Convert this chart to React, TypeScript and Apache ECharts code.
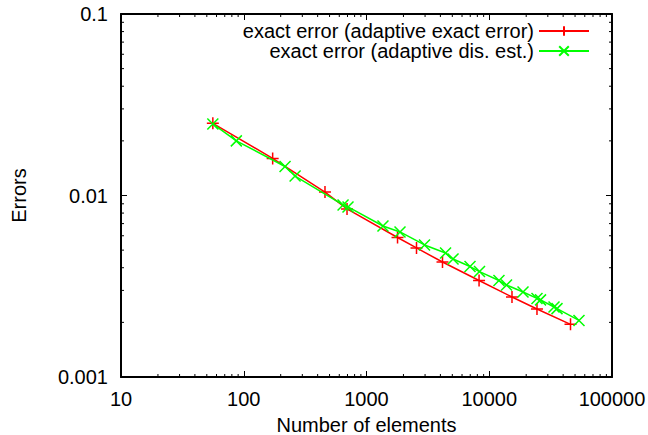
import React, { useEffect, useRef } from "react";
import * as echarts from "echarts";

// ---- data ----
const seriesNames = [
  "exact error (adaptive exact error)",
  "exact error (adaptive dis. est.)",
];
const exactElems = [56, 172, 459, 694, 1790, 2555, 4160, 8260, 15320, 24480, 45920];
const exactErrors = [0.025, 0.016, 0.01045, 0.00843, 0.00587, 0.00514, 0.0043, 0.0034, 0.00276, 0.00237, 0.00195];
const disElems = [56, 87, 217, 262, 644, 707, 1362, 1875, 2969, 4405, 5070, 6970, 8330, 12000, 13830, 18840, 24480, 26170, 33700, 35640, 53840];
const disErrors = [0.0248, 0.02, 0.01445, 0.0128, 0.00887, 0.00865, 0.00679, 0.0063, 0.00534, 0.00482, 0.00447, 0.00406, 0.00381, 0.0034, 0.00321, 0.00294, 0.00271, 0.00266, 0.00243, 0.00238, 0.00205];
const xTickLabels = ["10", "100", "1000", "10000", "100000"];
const yTickLabels = ["0.001", "0.01", "0.1"];
const xDecades = [10, 100, 1000, 10000];
const yDecades = [0.001, 0.01];
const minorMults = [2, 3, 4, 5, 6, 7, 8, 9];

const FONT = "'Liberation Sans', Arial, Helvetica, sans-serif";
const FS = 20;

const X_MIN = Number(xTickLabels[0]);
const X_MAX = Number(xTickLabels[xTickLabels.length - 1]);
const Y_MIN = Number(yTickLabels[0]);
const Y_MAX = Number(yTickLabels[yTickLabels.length - 1]);

const plusSymbol = "path://M0 5 L10 5 M5 0 L5 10";
const crossSymbol = "path://M0 0 L10 10 M10 0 L0 10";

export default function App() {
  const ref = useRef<HTMLDivElement>(null);
  useEffect(() => {
    if (!ref.current) return;
    const chart = echarts.init(ref.current, null, { renderer: "svg" });

    const xMinor: number[][] = [];
    xDecades.forEach((d) => minorMults.forEach((m) => xMinor.push([m * d, Y_MIN])));
    const yMinor: number[][] = [];
    yDecades.forEach((d) => minorMults.forEach((m) => yMinor.push([X_MIN, m * d])));

    const axisLineStyle = { color: "#000", width: 2 };
    const tickStyle = { color: "#000", width: 1 };
    const fmtX = (v: number) => String(Math.round(v));
    const fmtY = (v: number) => String(Number(v.toPrecision(6)));

    const xBase = {
      type: "log" as const,
      logBase: 10,
      min: X_MIN,
      max: X_MAX,
      splitNumber: 4,
      splitLine: { show: false },
      axisLine: { show: true, lineStyle: axisLineStyle },
      axisTick: { show: true, inside: true, length: 6, lineStyle: tickStyle },
    };
    const yBase = {
      type: "log" as const,
      logBase: 10,
      min: Y_MIN,
      max: Y_MAX,
      splitNumber: 2,
      splitLine: { show: false },
      axisLine: { show: true, lineStyle: axisLineStyle },
      axisTick: { show: true, inside: true, length: 6, lineStyle: tickStyle },
    };

    const minorLen = 3;
    const legendCommon = {
      right: 58,
      padding: 0,
      align: "right",
      itemWidth: 50,
      itemHeight: 12,
      selectedMode: false,
      textStyle: { fontSize: FS, color: "#000", fontFamily: FONT },
    };

    chart.setOption({
      animation: false,
      backgroundColor: "#fff",
      textStyle: { fontFamily: FONT },
      grid: { left: 121, right: 36, top: 14, bottom: 58, containLabel: false, outerBoundsMode: "none" },
      legend: [
        { ...legendCommon, data: [seriesNames[0]], top: 21 },
        { ...legendCommon, data: [seriesNames[1]], top: 41 },
      ],
      xAxis: [
        {
          ...xBase,
          position: "bottom",
          name: "Number of elements",
          nameLocation: "middle",
          nameGap: 38,
          nameTextStyle: { fontSize: FS, color: "#000", fontFamily: FONT },
          axisLabel: { show: true, fontSize: FS, color: "#000", margin: 12, formatter: fmtX, fontFamily: FONT },
        },
        {
          ...xBase,
          position: "top",
          axisLabel: { show: false },
        },
      ],
      yAxis: [
        {
          ...yBase,
          position: "left",
          name: "Errors",
          nameLocation: "middle",
          nameRotate: 90,
          nameGap: 92,
          nameTextStyle: { fontSize: FS, color: "#000", fontFamily: FONT },
          axisLabel: { show: true, fontSize: FS, color: "#000", margin: 13, formatter: fmtY, fontFamily: FONT },
        },
        {
          ...yBase,
          position: "right",
          axisLabel: { show: false },
        },
      ],
      series: [
        {
          name: seriesNames[0],
          type: "line",
          data: exactElems.map((x, i) => [x, exactErrors[i]]),
          symbol: plusSymbol,
          symbolSize: 12,
          showSymbol: true,
          lineStyle: { color: "#ff0000", width: 1.5 },
          itemStyle: { color: "#ff0000", borderColor: "#ff0000", borderWidth: 1.5 },
          emphasis: { disabled: true },
          silent: true,
          z: 3,
        },
        {
          name: seriesNames[1],
          type: "line",
          data: disElems.map((x, i) => [x, disErrors[i]]),
          symbol: crossSymbol,
          symbolSize: 11,
          showSymbol: true,
          lineStyle: { color: "#00ff00", width: 1.5 },
          itemStyle: { color: "#00ff00", borderColor: "#00ff00", borderWidth: 1.5 },
          emphasis: { disabled: true },
          silent: true,
          z: 4,
        },
        {
          name: "xminor",
          type: "custom",
          silent: true,
          data: xMinor,
          renderItem: (params: any, api: any) => {
            const p = api.coord([api.value(0), api.value(1)]);
            const cs = params.coordSys;
            const yb = cs.y + cs.height;
            const yt = cs.y;
            return {
              type: "group",
              children: [
                { type: "line", shape: { x1: p[0], y1: yb, x2: p[0], y2: yb - minorLen }, style: { stroke: "#000", lineWidth: 1 } },
                { type: "line", shape: { x1: p[0], y1: yt, x2: p[0], y2: yt + minorLen }, style: { stroke: "#000", lineWidth: 1 } },
              ],
            };
          },
          z: 2,
        },
        {
          name: "yminor",
          type: "custom",
          silent: true,
          data: yMinor,
          renderItem: (params: any, api: any) => {
            const p = api.coord([api.value(0), api.value(1)]);
            const cs = params.coordSys;
            const xl = cs.x;
            const xr = cs.x + cs.width;
            return {
              type: "group",
              children: [
                { type: "line", shape: { x1: xl, y1: p[1], x2: xl + minorLen, y2: p[1] }, style: { stroke: "#000", lineWidth: 1 } },
                { type: "line", shape: { x1: xr, y1: p[1], x2: xr - minorLen, y2: p[1] }, style: { stroke: "#000", lineWidth: 1 } },
              ],
            };
          },
          z: 2,
        },
      ],
    });
    return () => chart.dispose();
  }, []);
  return (
    <div
      ref={ref}
      style={{ position: "absolute", left: 0, top: 0, width: 648, height: 435, background: "#fff" }}
    />
  );
}
